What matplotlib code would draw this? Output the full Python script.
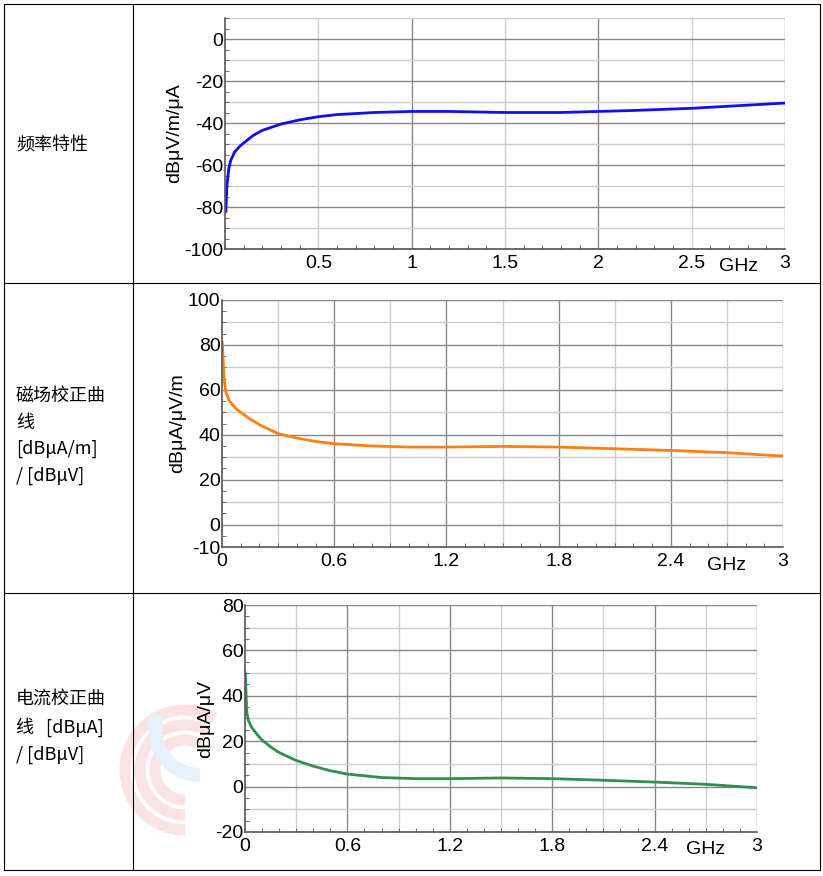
import numpy as np
import matplotlib.pyplot as plt
from matplotlib.patches import Arc

plt.rcParams['font.family'] = ['Noto Sans CJK SC', 'DejaVu Sans']

# 频率特性 (dBμV/m/μA)
f1 = [0.005, 0.01, 0.02, 0.03, 0.05, 0.08, 0.1, 0.15, 0.2, 0.3, 0.4, 0.5, 0.6, 0.8, 1.0, 1.2, 1.5, 1.8, 2.0, 2.2, 2.5, 2.8, 3.0]
v1 = [-82, -70, -62, -58, -54, -51, -49.5, -46, -43.5, -40.5, -38.5, -37, -36, -35, -34.5, -34.5, -35, -35, -34.5, -34, -33, -31.5, -30.5]
# 磁场校正曲线 (dBμA/μV/m)
f2 = [0.002, 0.01, 0.02, 0.04, 0.07, 0.1, 0.15, 0.2, 0.3, 0.4, 0.5, 0.6, 0.8, 1.0, 1.2, 1.5, 1.8, 2.0, 2.4, 2.7, 3.0]
v2 = [81, 66, 59, 55, 52, 50, 47, 44.5, 40.5, 38.5, 37, 36, 35, 34.5, 34.5, 34.8, 34.5, 34, 33, 32, 30.5]
# 电流校正曲线 (dBμA/μV)
f3 = [0.002, 0.01, 0.02, 0.04, 0.07, 0.1, 0.15, 0.2, 0.3, 0.4, 0.5, 0.6, 0.8, 1.0, 1.2, 1.5, 1.8, 2.1, 2.4, 2.7, 3.0]
v3 = [50, 33, 29, 26, 23, 20.5, 17.5, 15, 11.5, 9, 7, 5.5, 4, 3.5, 3.5, 3.8, 3.5, 2.8, 2, 1, -0.5]

labels = ['频率特性', '磁场校正曲\n线\n[dBμA/m]\n/ [dBμV]', '电流校正曲\n线   [dBμA]\n/ [dBμV]']

W, H = 823, 876
fig = plt.figure(figsize=(W / 100, H / 100), dpi=100)

def fx(px): return px / W
def fy(py): return 1 - py / H

# table borders
tab = fig.add_axes([0, 0, 1, 1], zorder=-1)
tab.set_xlim(0, W); tab.set_ylim(H, 0); tab.axis('off')
for y in [4, 283, 593, 870]:
    tab.plot([4, 820], [y, y], color='black', lw=0.8)
for x in [4, 133, 820]:
    tab.plot([x, x], [4, 870], color='black', lw=0.8)
# faded watermark
for r in [60, 45, 30]:
    tab.add_patch(Arc((185, 770), 2 * r, 2 * r, theta1=90, theta2=300, color='#fbe3e3', lw=8, zorder=0))
tab.add_patch(Arc((200, 730), 90, 90, theta1=90, theta2=200, color='#e6f1fb', lw=10, zorder=0))
tab.text(16, 145, labels[0], fontsize=13, va='center')
tab.text(16, 436, labels[1], fontsize=13, va='center', linespacing=1.6)
tab.text(16, 727, labels[2], fontsize=13, va='center', linespacing=1.6)

TF = 'Liberation Sans'

def chart(box, f, v, color, ylim, yt, xmaj, xminor, xt, xtl, ylabel, gx):
    x0, y0, x1, y1 = box
    ax = fig.add_axes([fx(x0), fy(y1), fx(x1) - fx(x0), fy(y0) - fy(y1)])
    ax.patch.set_alpha(0)
    ax.plot(f, v, color=color, lw=2)
    ax.set_xlim(0, 3); ax.set_ylim(*ylim)
    for g in np.arange(xminor, 3.001, xminor):
        major = abs(g / xmaj - round(g / xmaj)) < 1e-6
        ax.axvline(g, color='#888888' if major else '#cccccc', lw=1, zorder=0)
    for g in range(int(np.ceil(ylim[0] / 10)) * 10, ylim[1] + 1, 10):
        ax.axhline(g, color='#888888' if g % 20 == 0 else '#cccccc', lw=1, zorder=0)
    ax.set_xticks(xt); ax.set_xticklabels(xtl, fontsize=14, family=TF)
    ax.set_yticks(yt); ax.set_yticklabels([str(t) for t in yt], fontsize=14, family=TF)
    ax.set_xticks(np.arange(0, 3.001, 0.1), minor=True)
    ax.set_yticks(np.arange(ylim[0], ylim[1] + 0.01, 5), minor=True)
    ax.tick_params(axis='y', direction='in', length=0, pad=1)
    ax.tick_params(axis='x', direction='in', length=0, pad=4)
    ax.tick_params(which='minor', direction='in', length=3, color='#555555')
    for s in ['top', 'right']:
        ax.spines[s].set_visible(False)
    for s in ['left', 'bottom']:
        ax.spines[s].set_color('#555555'); ax.spines[s].set_linewidth(1.2)
    ax.set_ylabel(ylabel, fontsize=14, labelpad=1, family=TF)
    ax.text(gx, -0.04, 'GHz', transform=ax.get_xaxis_transform(), fontsize=14,
            va='top', ha='center', family=TF)
    return ax

chart((225, 18, 785, 249), f1, v1, '#1010ee', (-100, 10), list(range(-100, 1, 20)),
      1.0, 0.5, [0.5, 1, 1.5, 2, 2.5, 3], ['0.5', '1', '1.5', '2', '2.5', '3'],
      'dBμV/m/μA', 2.75)
chart((222, 300, 783, 547), f2, v2, '#ff8010', (-10, 100), [-10, 0, 20, 40, 60, 80, 100],
      0.6, 0.3, [0, 0.6, 1.2, 1.8, 2.4, 3], ['0', '0.6', '1.2', '1.8', '2.4', '3'],
      'dBμA/μV/m', 2.7)
chart((245, 605, 757, 832), f3, v3, '#2e9050', (-20, 80), [-20, 0, 20, 40, 60, 80],
      0.6, 0.3, [0, 0.6, 1.2, 1.8, 2.4, 3], ['0', '0.6', '1.2', '1.8', '2.4', '3'],
      'dBμA/μV', 2.7)

fig.savefig('out.png', dpi=100)
